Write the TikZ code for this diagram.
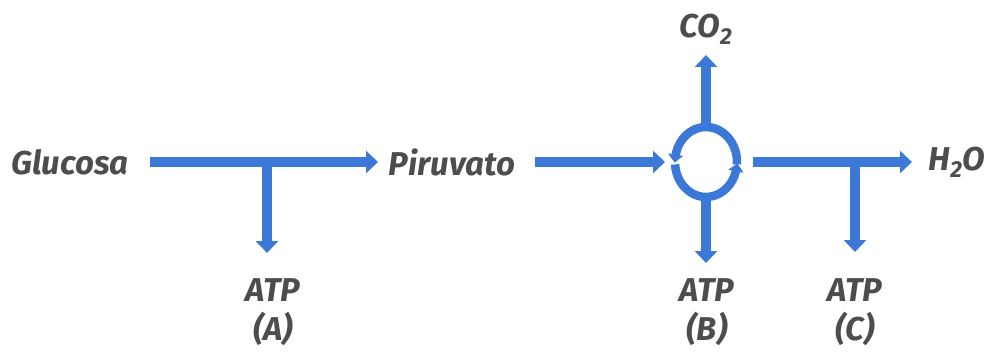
\documentclass[tikz,border=0pt]{standalone}
\usepackage{fontspec}
\setmainfont{Fira Sans}
\usetikzlibrary{arrows.meta,bending}
\definecolor{flowblue}{HTML}{3C78D8}
\definecolor{txtgray}{HTML}{4D4D4D}
\tikzset{
  flow/.style={draw=flowblue, line width=10pt, -{Triangle[width=22pt,length=12pt]}},
  ringarc/.style={draw=flowblue, line width=8.5pt, -{Triangle[width=15pt,length=8pt,bend]}},
  lbl/.style={text=txtgray, font=\fontsize{33}{39}\selectfont\bfseries\itshape, inner sep=0pt, align=center}
}
\begin{document}
\begin{tikzpicture}[x=1pt,y=1pt]
\useasboundingbox (0,0) rectangle (987,351);
% labels
\node[lbl] (glu) at (70,189) {Glucosa};
\node[lbl] (pir) at (452,189) {Piruvato};
\node[lbl] (h2o) at (957,189) {H\textsubscript{2}O};
\node[lbl] (co2) at (706,322) {CO\textsubscript{2}};
\node[lbl] (atpA) at (273,39) {ATP\\(A)};
\node[lbl] (atpB) at (707,39) {ATP\\(B)};
\node[lbl] (atpC) at (855,39) {ATP\\(C)};
% coordinates
\coordinate (g1) at (150,189);
\coordinate (p0) at (378,189);
\coordinate (jA) at (267,189);
\coordinate (tA) at (267,98);
\coordinate (p1) at (535,189);
\coordinate (c0) at (665,189);
\coordinate (cyc) at (706,189);
\coordinate (ctop) at (706,223);
\coordinate (cbot) at (706,155);
\coordinate (tCO) at (706,296);
\coordinate (tB) at (706,88);
\coordinate (c1) at (753,189);
\coordinate (h0) at (912,189);
\coordinate (jC) at (855,189);
\coordinate (tC) at (855,99);
% connectors
\draw[flow] (g1) -- (p0);
\draw[flow] (jA) -- (tA);
\draw[flow] (p1) -- (c0);
\draw[flow] (ctop) -- (tCO);
\draw[flow] (cbot) -- (tB);
\draw[flow] (c1) -- (h0);
\draw[flow] (jC) -- (tC);
% cycle
\draw[ringarc] ([shift={(-4:31 and 35)}]cyc) arc[start angle=-4,end angle=181,x radius=31,y radius=35];
\draw[ringarc] ([shift={(184:31 and 35)}]cyc) arc[start angle=184,end angle=358,x radius=31,y radius=35];
\end{tikzpicture}
\end{document}
